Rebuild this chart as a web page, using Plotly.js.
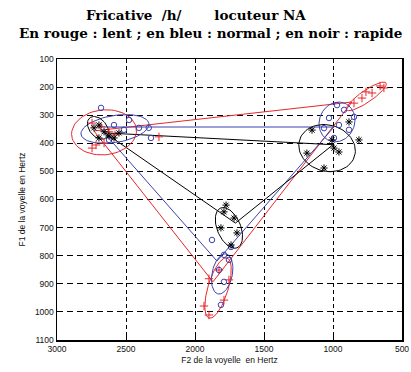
<!DOCTYPE html>
<html>
<head>
<meta charset="utf-8">
<script src="https://cdn.plot.ly/plotly-3.0.1.min.js"></script>
<style>html,body{margin:0;padding:0;background:#fff;}#chart{width:411px;height:372px;}</style>
</head>
<body>
<div id="chart"></div>
<script>
// Axis ticks
const F2_ticks = [3000, 2500, 2000, 1500, 1000, 500];
const F1_ticks = [100, 200, 300, 400, 500, 600, 700, 800, 900, 1000, 1100];

// Tokens (F2, F1) - red: lent, blue: normal, black: rapide
const redI_F2 = [2746, 2681, 2623, 2659, 2746, 2717, 2580, 2261];
const redI_F1 = [328, 341, 359, 399, 417, 406, 370, 377];
const redU_F2 = [717, 761, 790, 631, 659, 848];
const redU_F1 = [221, 217, 239, 203, 196, 257];
const redA_F2 = [1899, 1935, 1899, 1790, 1826, 1754];
const redA_F1 = [882, 979, 1011, 958, 851, 886];

const blueI_F2 = [2681, 2335, 2319, 2587, 2515, 2623, 2478, 2406];
const blueI_F1 = [274, 345, 381, 335, 352, 388, 317, 345];
const blueU_F2 = [971, 920, 1029, 957, 884, 993, 848, 1065];
const blueU_F1 = [264, 281, 310, 335, 352, 381, 306, 346];
const blueA_F2 = [1877, 1790, 1754, 1826, 1790, 1739, 1812];
const blueA_F1 = [744, 797, 815, 851, 893, 769, 975];

const blackI_F2 = [2732, 2696, 2659, 2623, 2587, 2696, 2551];
const blackI_F1 = [345, 335, 359, 374, 381, 381, 363];
const blackU_F2 = [1152, 884, 1007, 812, 957, 1189, 1065, 993];
const blackU_F1 = [353, 324, 388, 388, 431, 435, 488, 417];
const blackA_F2 = [1790, 1717, 1812, 1696, 1739, 1775];
const blackA_F1 = [644, 666, 701, 719, 762, 620];

// Triangle vertices i, a, u (closed back to i)
const redTri_F2 = [2732, 1870, 862, 2732];
const redTri_F1 = [356, 893, 253, 356];
const blueTri_F2 = [2696, 1841, 993, 2696];
const blueTri_F1 = [342, 819, 342, 342];
const blackTri_F2 = [2652, 1707, 1000, 2652];
const blackTri_F1 = [363, 684, 405, 363];

// Dispersion ellipses: centre F2, centre F1, first semi-axis (dF2,dF1), second semi-axis (dF2,dF1)
const redEll_c   = [[2659, 361], [758, 233], [1833, 915]];
const redEll_u   = [[235, 8], [-142, -48], [-65, -107]];
const redEll_v   = [[-6, 80], [-25, 17], [-70, 10]];
const blueEll_c  = [[2580, 349], [971, 324], [1803, 865]];
const blueEll_u  = [[246, 18], [130, 10], [-29, -71]];
const blueEll_v  = [[-8, 48], [-6, 70], [-72, 7]];
const blackEll_c = [[2703, 345], [1043, 417], [1754, 701]];
const blackEll_u = [[75, -22], [205, -12], [-58, 71]];
const blackEll_v = [[14, 34], [6, 83], [-80, -14]];

const RED = '#e8262a', BLUE = '#3b42b0', BLACK = '#000000';

function ellipse(c, u, v) {
  const xs = [], ys = [];
  for (let k = 0; k <= 72; k++) {
    const t = 2 * Math.PI * k / 72;
    xs.push(c[0] + u[0] * Math.cos(t) + v[0] * Math.sin(t));
    ys.push(c[1] + u[1] * Math.cos(t) + v[1] * Math.sin(t));
  }
  return {xs, ys};
}

const traces = [];
function lineTrace(x, y, color) {
  traces.push({x, y, mode: 'lines', type: 'scatter', line: {color, width: 1}, hoverinfo: 'skip'});
}
function ptsTrace(x, y, color, symbol, size) {
  traces.push({x, y, mode: 'markers', type: 'scatter',
    marker: {color, symbol, size, line: {color, width: 1}}});
}

lineTrace(redTri_F2, redTri_F1, RED);
lineTrace(blueTri_F2, blueTri_F1, BLUE);
lineTrace(blackTri_F2, blackTri_F1, BLACK);

[[redEll_c, redEll_u, redEll_v, RED], [blueEll_c, blueEll_u, blueEll_v, BLUE], [blackEll_c, blackEll_u, blackEll_v, BLACK]]
  .forEach(([cs, us, vs, col]) => {
    cs.forEach((c, i) => { const e = ellipse(c, us[i], vs[i]); lineTrace(e.xs, e.ys, col); });
  });

ptsTrace(redI_F2.concat(redU_F2, redA_F2), redI_F1.concat(redU_F1, redA_F1), RED, 'cross-thin-open', 6);
ptsTrace(blueI_F2.concat(blueU_F2, blueA_F2), blueI_F1.concat(blueU_F1, blueA_F1), BLUE, 'circle-open', 5.5);
ptsTrace(blackI_F2.concat(blackU_F2, blackA_F2), blackI_F1.concat(blackU_F1, blackA_F1), BLACK, 'asterisk-open', 6);

const tickFont = {family: 'Liberation Sans, Arial, sans-serif', size: 8.5, color: '#111'};
const titleFont = {family: 'DejaVu Serif, serif', size: 13.5, color: '#000'};
const layout = {
  width: 411, height: 372,
  margin: {l: 57, r: 9, t: 59, b: 32},
  paper_bgcolor: '#fff', plot_bgcolor: '#fff',
  showlegend: false,
  xaxis: {
    range: [3000, 500], tickvals: F2_ticks, ticktext: F2_ticks.map(String),
    ticks: 'inside', ticklen: 4, tickcolor: '#000',
    showline: true, mirror: true, linecolor: '#000', linewidth: 1.5,
    showgrid: true, gridcolor: '#000', gridwidth: 1, griddash: '4px,3px',
    zeroline: false, tickfont: tickFont,
    title: {text: 'F2 de la voyelle  en Hertz', font: tickFont, standoff: 4}
  },
  yaxis: {
    range: [1100, 100], tickvals: F1_ticks, ticktext: F1_ticks.map(String),
    ticks: 'inside', ticklen: 4, tickcolor: '#000',
    showline: true, mirror: true, linecolor: '#000', linewidth: 1.5,
    showgrid: true, gridcolor: '#000', gridwidth: 1, griddash: '6px,4px',
    zeroline: false, tickfont: tickFont,
    title: {text: 'F1 de la voyelle en Hertz', font: tickFont, standoff: 8}
  },
  annotations: [
    {text: '<b>Fricative  /h/       locuteur NA</b>', xref: 'paper', yref: 'paper',
     x: 0.402, y: 1, yshift: 44, xanchor: 'center', yanchor: 'middle', showarrow: false,
     font: titleFont},
    {text: '<b>En rouge : lent ; en bleu : normal ; en noir : rapide</b>', xref: 'paper', yref: 'paper',
     x: 0.446, y: 1, yshift: 26, xanchor: 'center', yanchor: 'middle', showarrow: false,
     font: titleFont}
  ]
};

Plotly.newPlot('chart', traces, layout, {staticPlot: true, displayModeBar: false});
</script>
</body>
</html>
